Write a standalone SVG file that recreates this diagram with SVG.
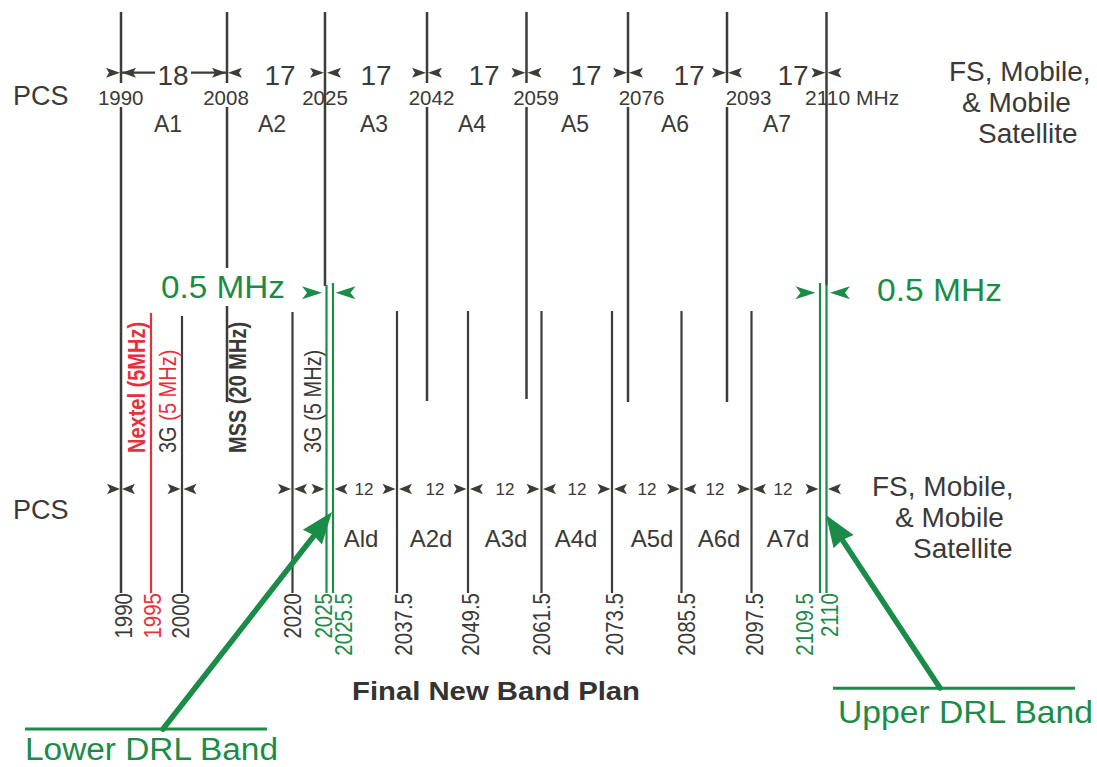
<svg xmlns="http://www.w3.org/2000/svg" xmlns:xlink="http://www.w3.org/1999/xlink" width="1097" height="767" viewBox="0 0 1097 767">
<style>
text{font-family:"Liberation Sans",Arial,Helvetica,sans-serif;fill:#3a3a37}
.dk{stroke:#3c3c39;stroke-width:2.5;fill:none}
.dkb{stroke:#3c3c39;stroke-width:2.2;fill:none}
.gr{stroke:#1b8c48;stroke-width:2.2;fill:none}
.rd{stroke:#e8303c;stroke-width:2.2;fill:none}
.ah{fill:#3c3c39}
.gah{fill:#1b8c48}
.wb{fill:#ffffff}
.yr{font-size:20.5px;text-anchor:middle}
.big{font-size:28px;text-anchor:middle}
.band{font-size:23px;text-anchor:middle}
.side{font-size:28px}
.twelve{font-size:17px;text-anchor:middle}
.bband{font-size:24px;text-anchor:middle}
.vt{font-size:20.5px;text-anchor:end}
.g{fill:#1b8c48}
.r{fill:#e8303c}
</style>
<defs>
<path id="at" d="M0,0 L-14,-5 L-11,0 L-14,5 Z"/>
<path id="ab" d="M0,0 L-13,-5.2 L-10,0 L-13,5.2 Z"/>
<path id="ag" d="M0,0 L-20,-6.5 L-15,0 L-20,6.5 Z"/>
</defs>

<g id="top-plan">
  <g id="top-lines">
    <line class="dk" x1="121" y1="12" x2="121" y2="593"/>
    <line class="dk" x1="227" y1="12" x2="227" y2="402"/>
    <line class="dk" x1="427" y1="12" x2="427" y2="401"/>
    <line class="dk" x1="526.5" y1="12" x2="526.5" y2="399"/>
    <line class="dk" x1="628" y1="12" x2="628" y2="402"/>
    <line class="dk" x1="727" y1="12" x2="727" y2="402"/>
    <line class="dkb" x1="121" y1="72.7" x2="227" y2="72.7"/>
  </g>
  <g id="top-label-backs">
    <rect class="wb" x="97" y="83" width="48" height="24"/>
    <rect class="wb" x="202" y="83" width="48" height="24"/>
    <rect class="wb" x="407" y="83" width="49" height="24"/>
    <rect class="wb" x="511" y="83" width="50" height="24"/>
    <rect class="wb" x="617" y="83" width="49" height="24"/>
    <rect class="wb" x="725" y="83" width="46" height="24"/>
    <rect class="wb" x="155" y="60" width="36" height="28"/>
    <rect class="wb" x="158" y="268" width="132" height="38"/>
  </g>
  <g id="top-arrows">
    <use xlink:href="#at" href="#at" class="ah" transform="translate(120,72.7)"/>
    <use xlink:href="#at" href="#at" class="ah" transform="translate(122,72.7) scale(-1,1)"/>
    <use xlink:href="#at" href="#at" class="ah" transform="translate(226,72.7)"/>
    <use xlink:href="#at" href="#at" class="ah" transform="translate(228,72.7) scale(-1,1)"/>
    <use xlink:href="#at" href="#at" class="ah" transform="translate(324,72.7)"/>
    <use xlink:href="#at" href="#at" class="ah" transform="translate(327,72.7) scale(-1,1)"/>
    <use xlink:href="#at" href="#at" class="ah" transform="translate(426,72.7)"/>
    <use xlink:href="#at" href="#at" class="ah" transform="translate(428,72.7) scale(-1,1)"/>
    <use xlink:href="#at" href="#at" class="ah" transform="translate(525.5,72.7)"/>
    <use xlink:href="#at" href="#at" class="ah" transform="translate(527.5,72.7) scale(-1,1)"/>
    <use xlink:href="#at" href="#at" class="ah" transform="translate(627,72.7)"/>
    <use xlink:href="#at" href="#at" class="ah" transform="translate(629,72.7) scale(-1,1)"/>
    <use xlink:href="#at" href="#at" class="ah" transform="translate(726,72.7)"/>
    <use xlink:href="#at" href="#at" class="ah" transform="translate(728,72.7) scale(-1,1)"/>
    <use xlink:href="#at" href="#at" class="ah" transform="translate(825.5,72.7)"/>
    <use xlink:href="#at" href="#at" class="ah" transform="translate(827.5,72.7) scale(-1,1)"/>
  </g>
  <g id="top-texts">
    <text class="side" x="13" y="105" style="font-size:27px">PCS</text>
    <text class="big" x="173" y="85">18</text>
    <text class="big" x="280" y="85">17</text>
    <text class="big" x="376" y="85">17</text>
    <text class="big" x="484" y="85">17</text>
    <text class="big" x="586" y="85">17</text>
    <text class="big" x="689" y="85">17</text>
    <text class="big" x="793" y="85">17</text>
    <text class="yr" x="120.7" y="105">1990</text>
    <text class="yr" x="226" y="105">2008</text>
    <text class="yr" x="325" y="105">2025</text>
    <text class="yr" x="431.5" y="105">2042</text>
    <text class="yr" x="536" y="105">2059</text>
    <text class="yr" x="641.5" y="105">2076</text>
    <text class="yr" x="748.5" y="105">2093</text>
    <text x="805" y="105" style="font-size:21px">2110 MHz</text>
    <text class="band" x="168" y="132">A1</text>
    <text class="band" x="272" y="132">A2</text>
    <text class="band" x="374" y="132">A3</text>
    <text class="band" x="472" y="132">A4</text>
    <text class="band" x="575" y="132">A5</text>
    <text class="band" x="675" y="132">A6</text>
    <text class="band" x="777" y="132">A7</text>
    <text class="side" x="949" y="81">FS, Mobile,</text>
    <text class="side" x="962" y="112">&amp; Mobile</text>
    <text class="side" x="978" y="143">Satellite</text>
  </g>
  <g id="top-edge-lines">
    <line class="dk" x1="325" y1="12" x2="325" y2="286"/>
    <line class="dk" x1="826.5" y1="12" x2="826.5" y2="285"/>
  </g>
</g>

<g id="drl-guard">
  <line class="gr" x1="326.5" y1="285" x2="326.5" y2="593"/>
  <line class="gr" x1="333" y1="283" x2="333" y2="593"/>
  <line class="gr" x1="826.5" y1="285" x2="826.5" y2="593"/>
  <line class="gr" x1="820" y1="283" x2="820" y2="593"/>
  <use xlink:href="#ag" href="#ag" class="gah" transform="translate(322,292.7)"/>
  <use xlink:href="#ag" href="#ag" class="gah" transform="translate(335.5,292.7) scale(-1,1)"/>
  <use xlink:href="#ag" href="#ag" class="gah" transform="translate(815.5,292.7)"/>
  <use xlink:href="#ag" href="#ag" class="gah" transform="translate(830,292.7) scale(-1,1)"/>
  <text x="161" y="298" class="g" style="font-size:32px" textLength="124" lengthAdjust="spacingAndGlyphs">0.5 MHz</text>
  <text x="877" y="301" class="g" style="font-size:32px" textLength="125" lengthAdjust="spacingAndGlyphs">0.5 MHz</text>
</g>

<g id="bottom-plan">
  <g id="bottom-lines">
    <line class="rd" x1="151" y1="313" x2="151" y2="593"/>
    <line class="dkb" x1="182" y1="316" x2="182" y2="593"/>
    <line class="dkb" x1="292.5" y1="312" x2="292.5" y2="593"/>
    <line class="dkb" x1="397" y1="311" x2="397" y2="593"/>
    <line class="dkb" x1="468" y1="311" x2="468" y2="593"/>
    <line class="dkb" x1="541.5" y1="311" x2="541.5" y2="593"/>
    <line class="dkb" x1="612" y1="311" x2="612" y2="593"/>
    <line class="dkb" x1="681.5" y1="311" x2="681.5" y2="593"/>
    <line class="dkb" x1="751.5" y1="311" x2="751.5" y2="593"/>
  </g>
  <g id="vertical-notes">
    <text transform="translate(145,453) rotate(-90) scale(1,1.2)" class="r" style="font-size:20px;font-weight:bold">Nextel (5MHz)</text>
    <text transform="translate(176,453) rotate(-90) scale(1,1.2)" style="font-size:20px">3G <tspan class="r">(5 MHz)</tspan></text>
    <text transform="translate(246,453) rotate(-90) scale(1,1.2)" style="font-size:20px;font-weight:bold">MSS (20 MHz)</text>
    <text transform="translate(321,453) rotate(-90) scale(1,1.2)" style="font-size:20px">3G (5 MHz)</text>
  </g>
  <g id="bottom-arrows">
    <use xlink:href="#ab" href="#ab" class="ah" transform="translate(120,489)"/>
    <use xlink:href="#ab" href="#ab" class="ah" transform="translate(122,489) scale(-1,1)"/>
    <use xlink:href="#ab" href="#ab" class="ah" transform="translate(180.5,489)"/>
    <use xlink:href="#ab" href="#ab" class="ah" transform="translate(183.5,489) scale(-1,1)"/>
    <use xlink:href="#ab" href="#ab" class="ah" transform="translate(291,489)"/>
    <use xlink:href="#ab" href="#ab" class="ah" transform="translate(294,489) scale(-1,1)"/>
    <use xlink:href="#ab" href="#ab" class="ah" transform="translate(324.5,489)"/>
    <use xlink:href="#ab" href="#ab" class="ah" transform="translate(334.5,489) scale(-1,1)"/>
    <use xlink:href="#ab" href="#ab" class="ah" transform="translate(395.5,489)"/>
    <use xlink:href="#ab" href="#ab" class="ah" transform="translate(399,489) scale(-1,1)"/>
    <use xlink:href="#ab" href="#ab" class="ah" transform="translate(466.5,489)"/>
    <use xlink:href="#ab" href="#ab" class="ah" transform="translate(470,489) scale(-1,1)"/>
    <use xlink:href="#ab" href="#ab" class="ah" transform="translate(539.5,489)"/>
    <use xlink:href="#ab" href="#ab" class="ah" transform="translate(543,489) scale(-1,1)"/>
    <use xlink:href="#ab" href="#ab" class="ah" transform="translate(610.5,489)"/>
    <use xlink:href="#ab" href="#ab" class="ah" transform="translate(614,489) scale(-1,1)"/>
    <use xlink:href="#ab" href="#ab" class="ah" transform="translate(680,489)"/>
    <use xlink:href="#ab" href="#ab" class="ah" transform="translate(683.5,489) scale(-1,1)"/>
    <use xlink:href="#ab" href="#ab" class="ah" transform="translate(750,489)"/>
    <use xlink:href="#ab" href="#ab" class="ah" transform="translate(753,489) scale(-1,1)"/>
    <use xlink:href="#ab" href="#ab" class="ah" transform="translate(818.5,489)"/>
    <use xlink:href="#ab" href="#ab" class="ah" transform="translate(828,489) scale(-1,1)"/>
  </g>
  <g id="bottom-texts">
    <text class="side" x="13" y="519" style="font-size:27px">PCS</text>
    <text class="twelve" x="364" y="495">12</text>
    <text class="twelve" x="435" y="495">12</text>
    <text class="twelve" x="505" y="495">12</text>
    <text class="twelve" x="577" y="495">12</text>
    <text class="twelve" x="647" y="495">12</text>
    <text class="twelve" x="715" y="495">12</text>
    <text class="twelve" x="783" y="495">12</text>
    <text class="bband" x="361" y="547">Ald</text>
    <text class="bband" x="431" y="547">A2d</text>
    <text class="bband" x="506" y="547">A3d</text>
    <text class="bband" x="576" y="547">A4d</text>
    <text class="bband" x="652" y="547">A5d</text>
    <text class="bband" x="719" y="547">A6d</text>
    <text class="bband" x="788" y="547">A7d</text>
    <text class="side" x="872" y="496">FS, Mobile,</text>
    <text class="side" x="895" y="527">&amp; Mobile</text>
    <text class="side" x="913" y="558">Satellite</text>
  </g>
  <g id="frequency-labels">
    <text class="vt" transform="translate(132,593) rotate(-90) scale(1,1.2)">1990</text>
    <text class="vt r" transform="translate(161,593) rotate(-90) scale(1,1.2)">1995</text>
    <text class="vt" transform="translate(188.5,593) rotate(-90) scale(1,1.2)">2000</text>
    <text class="vt" transform="translate(300.5,593) rotate(-90) scale(1,1.2)">2020</text>
    <text class="vt g" transform="translate(331.5,593) rotate(-90) scale(1,1.2)">2025</text>
    <text class="vt g" transform="translate(351.5,593) rotate(-90) scale(1,1.2)">2025.5</text>
    <text class="vt" transform="translate(411.5,593) rotate(-90) scale(1,1.2)">2037.5</text>
    <text class="vt" transform="translate(479,593) rotate(-90) scale(1,1.2)">2049.5</text>
    <text class="vt" transform="translate(550,593) rotate(-90) scale(1,1.2)">2061.5</text>
    <text class="vt" transform="translate(623,593) rotate(-90) scale(1,1.2)">2073.5</text>
    <text class="vt" transform="translate(695,593) rotate(-90) scale(1,1.2)">2085.5</text>
    <text class="vt" transform="translate(763,593) rotate(-90) scale(1,1.2)">2097.5</text>
    <text class="vt g" transform="translate(813,593) rotate(-90) scale(1,1.2)">2109.5</text>
    <text class="vt g" transform="translate(838,593) rotate(-90) scale(1,1.2)">2110</text>
  </g>
  <text x="496" y="700" style="font-size:26px;font-weight:bold;text-anchor:middle;fill:#333331" textLength="288" lengthAdjust="spacingAndGlyphs">Final New Band Plan</text>
</g>

<g id="connectors">
  <g id="lower-drl">
    <line x1="25" y1="729" x2="267" y2="729" stroke="#1b8c48" stroke-width="3"/>
    <line x1="163" y1="729" x2="313" y2="537" stroke="#1b8c48" stroke-width="5.5" stroke-linecap="round"/>
    <polygon class="gah" points="332,512 321.9,544.6 313.5,535 302.9,529.8"/>
  </g>
  <g id="upper-drl">
    <line x1="833" y1="688.3" x2="1075" y2="688.3" stroke="#1b8c48" stroke-width="3"/>
    <line x1="940" y1="688" x2="843" y2="541" stroke="#1b8c48" stroke-width="5.5" stroke-linecap="round"/>
    <polygon class="gah" points="826,515 853.6,535.1 842,540 833.6,548.3"/>
  </g>
</g>

<g id="drl-labels">
  <text x="25" y="760" class="g" style="font-size:31px" textLength="253" lengthAdjust="spacingAndGlyphs">Lower DRL Band</text>
  <text x="838" y="723" class="g" style="font-size:32px" textLength="255" lengthAdjust="spacingAndGlyphs">Upper DRL Band</text>
</g>
</svg>
